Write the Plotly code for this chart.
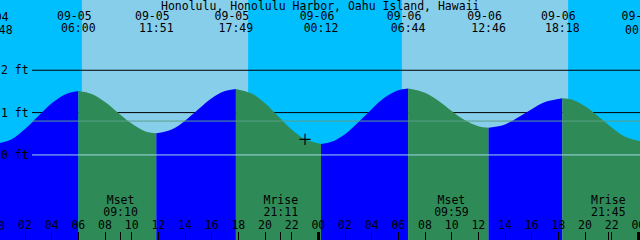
import plotly.graph_objects as go

TITLE = "Honolulu, Honolulu Harbor, Oahu Island, Hawaii"

# Tide extremes (date, time, height in ft)
ext_dates = ["09-04", "09-05", "09-05", "09-05", "09-06", "09-06", "09-06", "09-06", "09-07"]
ext_times = ["23:48", "06:00", "11:51", "17:49", "00:12", "06:44", "12:46", "18:18", "00:20"]
ext_heights = [0.26, 1.51, 0.51, 1.56, 0.26, 1.57, 0.64, 1.34, 0.31]

# Tide height read hourly from 09-05 00:00
curve_hours = list(range(0, 49))
curve_heights = [0.26, 0.37, 0.61, 0.92, 1.22, 1.43, 1.51, 1.44, 1.25, 0.99,
                 0.74, 0.56, 0.51, 0.60, 0.81, 1.08, 1.34, 1.51, 1.56, 1.45,
                 1.22, 0.91, 0.60, 0.37, 0.26, 0.31, 0.49, 0.77, 1.08, 1.36,
                 1.53, 1.57, 1.47, 1.28, 1.04, 0.82, 0.68, 0.64, 0.72, 0.89,
                 1.08, 1.25, 1.34, 1.31, 1.15, 0.91, 0.65, 0.43, 0.31]

# Moon events
moon_labels = ["Mset", "Mrise", "Mset", "Mrise"]
moon_dates = ["09-05", "09-05", "09-06", "09-06"]
moon_times = ["09:10", "21:11", "09:59", "21:45"]

# Sun (day bands)
sunrise = [("09-05", "06:16"), ("09-06", "06:16")]
sunset = [("09-05", "18:44"), ("09-06", "18:44")]

# Current-time marker
now_time = ("09-05", "23:00")
now_height = 0.37

# Level lines
level_labels = ["2 ft", "1 ft", "0 ft"]
level_values = [2, 1, 0]
mean_level = 0.80

hour_tick_hours = list(range(0, 50, 2))

DAY0 = 5
X0, X1 = 0.125, 48.125
PX_PER_FT, ZERO_PX, H = 42.35, 154.95, 240.0
Y_TOP = ZERO_PX / PX_PER_FT
Y_BOT = (ZERO_PX - H) / PX_PER_FT

NIGHT, DAY, FLOOD, EBB = "#00BFFF", "#87CEEB", "#0000FF", "#2E8B57"
FONT = dict(family="DejaVu Sans Mono", size=11.5, color="black")


def to_hours(date, time):
    d = int(date.split("-")[1]) - DAY0
    hh, mm = time.split(":")
    return d * 24 + int(hh) + int(mm) / 60.0


ext_hours = [to_hours(d, t) for d, t in zip(ext_dates, ext_times)]
moon_hours = [to_hours(d, t) for d, t in zip(moon_dates, moon_times)]

fig = go.Figure()

# tide fill segments
for i in range(len(ext_hours) - 1):
    ta, tb = ext_hours[i], ext_hours[i + 1]
    xs = [ta] + [h for h in curve_hours if ta + 0.35 < h < tb - 0.35] + [tb]
    ys = [ext_heights[i]] + [curve_heights[curve_hours.index(h)] for h in xs[1:-1]] + [ext_heights[i + 1]]
    color = FLOOD if ext_heights[i + 1] > ext_heights[i] else EBB
    fig.add_trace(go.Scatter(x=[ta, tb], y=[Y_BOT - 0.1] * 2, mode="lines",
                             line=dict(width=0), hoverinfo="skip", showlegend=False))
    fig.add_trace(go.Scatter(x=xs, y=ys, mode="lines", line=dict(width=0, shape="spline", color=color),
                             fill="tonexty", fillcolor=color, hoverinfo="skip", showlegend=False))

# now marker
fig.add_trace(go.Scatter(x=[to_hours(*now_time)], y=[now_height], mode="markers",
                         marker=dict(symbol="cross-thin", size=8, line=dict(width=1.2, color="black")),
                         showlegend=False, hoverinfo="skip"))

annotations = [dict(text=TITLE, xref="paper", yref="paper", x=0.5, y=1 - 5.5 / H, xanchor="center",
                    yanchor="middle", showarrow=False, font=FONT)]


def add_text_row(xs, ypx, texts):
    inside = [(x, t) for x, t in zip(xs, texts) if X0 <= x <= X1]
    outside = [(x, t) for x, t in zip(xs, texts) if not (X0 <= x <= X1)]
    if inside:
        fig.add_trace(go.Scatter(x=[p[0] for p in inside], y=[ypx] * len(inside), yaxis="y2",
                                 mode="text", text=[p[1] for p in inside], textfont=FONT,
                                 cliponaxis=False, showlegend=False, hoverinfo="skip"))
    for x, t in outside:
        annotations.append(dict(text=t, xref="paper", yref="paper", x=(x - X0) / (X1 - X0),
                                y=1 - ypx / H, xanchor="center", yanchor="middle",
                                showarrow=False, font=FONT, borderpad=0))


add_text_row([h - 0.3 for h in ext_hours], 17.5, ext_dates)
add_text_row(ext_hours, 29.5, ext_times)
add_text_row(moon_hours, 201.5, moon_labels)
add_text_row(moon_hours, 213.5, moon_times)
add_text_row(hour_tick_hours, 226, ["%02d" % (h % 24) for h in hour_tick_hours])

# dummy for xaxis2
fig.add_trace(go.Scatter(x=[24], y=[0], xaxis="x2", mode="markers", marker=dict(opacity=0),
                         showlegend=False, hoverinfo="skip"))

shapes = []
for (rd, rt), (sd, st) in zip(sunrise, sunset):
    shapes.append(dict(type="rect", xref="x", yref="paper", x0=to_hours(rd, rt), x1=to_hours(sd, st),
                       y0=0, y1=1, fillcolor=DAY, line=dict(width=0), layer="below"))
for v in level_values:
    if v > 0:
        shapes.append(dict(type="line", xref="paper", yref="y", x0=32 / 640, x1=1, y0=v, y1=v,
                           line=dict(color="black", width=1), layer="below"))
shapes.append(dict(type="line", xref="paper", yref="y", x0=32 / 640, x1=1, y0=mean_level, y1=mean_level,
                   line=dict(color="#5A9E88", width=1), layer="above"))
shapes.append(dict(type="line", xref="paper", yref="y", x0=32 / 640, x1=1, y0=0, y1=0,
                   line=dict(color="#9ED6E6", width=1), layer="above"))

for lab, v in zip(level_labels, level_values):
    annotations.append(dict(text=lab, xref="paper", yref="y", x=0.0, y=v, xanchor="left", yanchor="middle",
                            showarrow=False, font=FONT, xshift=-1))

fig.update_layout(
    width=640, height=240, margin=dict(l=0, r=0, t=0, b=0),
    paper_bgcolor=NIGHT, plot_bgcolor=NIGHT, showlegend=False,
    shapes=shapes, annotations=annotations,
    xaxis=dict(range=[X0, X1], showgrid=False, zeroline=False, showticklabels=False, showline=False,
               ticks="inside", ticklen=8, tickwidth=1, tickcolor="black",
               tickvals=[h for h in hour_tick_hours if h % 24 != 0] + moon_hours, fixedrange=True),
    xaxis2=dict(range=[X0, X1], overlaying="x", anchor="y", side="bottom", showgrid=False, zeroline=False,
                showticklabels=False, showline=False, ticks="inside", ticklen=8, tickwidth=3,
                tickcolor="black", tickvals=[24, 48]),
    yaxis=dict(range=[Y_BOT, Y_TOP], visible=False, fixedrange=True),
    yaxis2=dict(range=[H, 0], overlaying="y", visible=False),
)

fig.write_html("out.html")
